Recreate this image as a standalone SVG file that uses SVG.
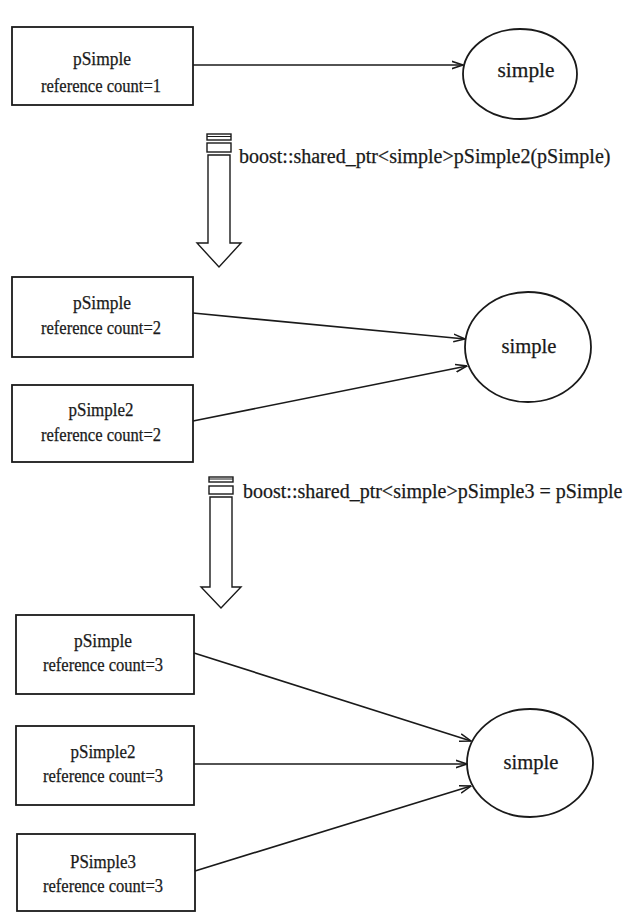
<svg xmlns="http://www.w3.org/2000/svg" width="628" height="912" viewBox="0 0 628 912">
  <style>
    .box { fill: #fff; stroke: #1a1a1a; stroke-width: 1.8; }
    .obj { fill: #fff; stroke: #1a1a1a; stroke-width: 1.8; }
    .txt { font-family: "Liberation Serif", "Times New Roman", serif; font-size: 19px; fill: #1a1a1a; stroke: #1a1a1a; stroke-width: 0.25; text-anchor: middle; }
    .big { font-size: 20.5px; }
    .lbl { font-family: "Liberation Serif", "Times New Roman", serif; font-size: 20px; fill: #1a1a1a; stroke: #1a1a1a; stroke-width: 0.25; }
    .conn { fill: none; stroke: #1a1a1a; stroke-width: 1.7; marker-end: url(#open); }
    .step { fill: #fff; stroke: #1a1a1a; stroke-width: 1.4; }
  </style>
  <defs>
    <marker id="open" viewBox="0 0 12 10" refX="11.5" refY="5" markerWidth="12" markerHeight="10" markerUnits="userSpaceOnUse" orient="auto">
      <path d="M0,1.2 L11.5,5 L0,8.8" fill="none" stroke="#1a1a1a" stroke-width="1.5"/>
    </marker>
  </defs>
  <rect width="628" height="912" fill="#fff"/>

  <!-- stage 1 -->
  <g id="s1-pSimple">
    <rect class="box" x="12" y="27" width="181" height="78"/>
    <text class="txt" x="102" y="65" textLength="58" lengthAdjust="spacingAndGlyphs">pSimple</text>
    <text class="txt" x="101" y="92" textLength="120" lengthAdjust="spacingAndGlyphs">reference count=1</text>
  </g>
  <g id="s1-simple">
    <ellipse class="obj" cx="520" cy="74" rx="57" ry="45"/>
    <text class="txt big" x="526" y="77" textLength="57" lengthAdjust="spacingAndGlyphs">simple</text>
  </g>

  <!-- transition 1 -->
  <g id="step1">
    <rect class="step" x="207" y="134" width="24" height="6"/>
    <line x1="207" y1="136.5" x2="231" y2="136.5" stroke="#1a1a1a" stroke-width="1"/>
    <rect class="step" x="207" y="143" width="24" height="9"/>
    <path class="step" d="M208,155 H230 V243 H241 L219,267 L197,243 H208 Z"/>
    <text class="lbl" x="239" y="163">boost::shared_ptr&lt;simple&gt;pSimple2(pSimple)</text>
  </g>

  <!-- stage 2 -->
  <g id="s2-pSimple">
    <rect class="box" x="12" y="277" width="181" height="80"/>
    <text class="txt" x="102" y="309" textLength="58" lengthAdjust="spacingAndGlyphs">pSimple</text>
    <text class="txt" x="101" y="334" textLength="120" lengthAdjust="spacingAndGlyphs">reference count=2</text>
  </g>
  <g id="s2-pSimple2">
    <rect class="box" x="12" y="385" width="181" height="77"/>
    <text class="txt" x="101" y="416" textLength="65" lengthAdjust="spacingAndGlyphs">pSimple2</text>
    <text class="txt" x="101" y="441" textLength="120" lengthAdjust="spacingAndGlyphs">reference count=2</text>
  </g>
  <g id="s2-simple">
    <ellipse class="obj" cx="528" cy="347" rx="63" ry="55"/>
    <text class="txt big" x="529" y="353" textLength="55" lengthAdjust="spacingAndGlyphs">simple</text>
  </g>

  <!-- transition 2 -->
  <g id="step2">
    <rect class="step" x="209" y="477" width="24" height="5"/>
    <line x1="209" y1="479" x2="233" y2="479" stroke="#1a1a1a" stroke-width="1"/>
    <rect class="step" x="209" y="486" width="24" height="8"/>
    <path class="step" d="M210,497 H232 V587 H241 L221,608 L201,587 H210 Z"/>
    <text class="lbl" x="243" y="498">boost::shared_ptr&lt;simple&gt;pSimple3 = pSimple</text>
  </g>

  <!-- stage 3 -->
  <g id="s3-pSimple">
    <rect class="box" x="16" y="615" width="178" height="79"/>
    <text class="txt" x="103" y="647" textLength="58" lengthAdjust="spacingAndGlyphs">pSimple</text>
    <text class="txt" x="103" y="671" textLength="120" lengthAdjust="spacingAndGlyphs">reference count=3</text>
  </g>
  <g id="s3-pSimple2">
    <rect class="box" x="16" y="726" width="178" height="79"/>
    <text class="txt" x="103" y="758" textLength="65" lengthAdjust="spacingAndGlyphs">pSimple2</text>
    <text class="txt" x="103" y="782" textLength="120" lengthAdjust="spacingAndGlyphs">reference count=3</text>
  </g>
  <g id="s3-PSimple3">
    <rect class="box" x="17" y="834" width="178" height="77"/>
    <text class="txt" x="103" y="868" textLength="66" lengthAdjust="spacingAndGlyphs">PSimple3</text>
    <text class="txt" x="103" y="892" textLength="120" lengthAdjust="spacingAndGlyphs">reference count=3</text>
  </g>
  <g id="s3-simple">
    <ellipse class="obj" cx="530" cy="763" rx="63" ry="54"/>
    <text class="txt big" x="531" y="769" textLength="55" lengthAdjust="spacingAndGlyphs">simple</text>
  </g>

  <!-- pointer connectors -->
  <g id="connectors">
    <line class="conn" x1="193" y1="65" x2="463" y2="65"/>
    <line class="conn" x1="193" y1="313" x2="465" y2="339"/>
    <line class="conn" x1="193" y1="421" x2="467" y2="366"/>
    <line class="conn" x1="194" y1="653" x2="471" y2="741"/>
    <line class="conn" x1="194" y1="764" x2="467" y2="764"/>
    <line class="conn" x1="195" y1="871" x2="471" y2="786"/>
  </g>
</svg>
